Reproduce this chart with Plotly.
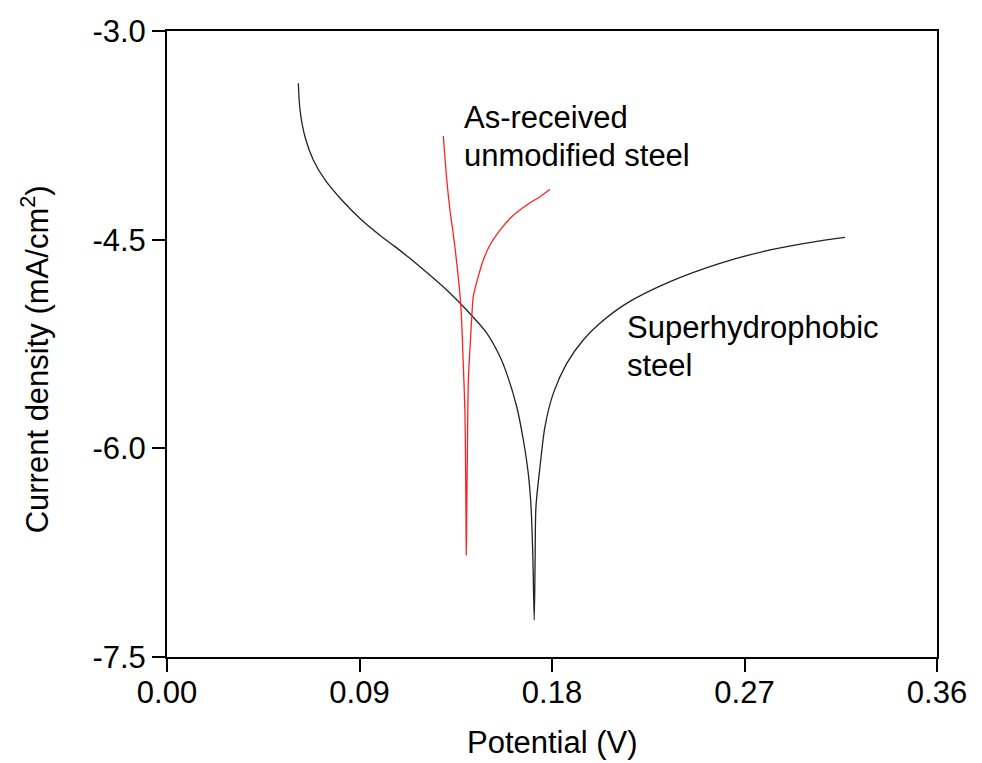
import plotly.graph_objects as go

# Superhydrophobic steel (black)
sh_potential = [0.0614, 0.0622, 0.0645, 0.0684, 0.0739, 0.0817, 0.0910, 0.1004, 0.1066,
                0.1183, 0.1308, 0.1401, 0.1495,
                0.1557, 0.1588, 0.1635, 0.1666, 0.1689, 0.1702, 0.1710, 0.1717,
                0.1721, 0.1725, 0.1744, 0.1767, 0.1806, 0.1869, 0.1946, 0.2024, 0.2149,
                0.2352, 0.2585, 0.2819, 0.3053, 0.3170]
sh_current = [-3.376, -3.568, -3.760, -3.927, -4.071, -4.215, -4.359, -4.479, -4.550,
              -4.694, -4.862, -5.006, -5.171,
              -5.341, -5.461, -5.701, -5.940, -6.180, -6.420, -6.753, -7.234,
              -6.800, -6.420, -6.132, -5.845, -5.605, -5.389, -5.221, -5.101, -4.958,
              -4.802, -4.670, -4.574, -4.508, -4.483]

# As-received unmodified steel (red)
ar_potential = [0.1292, 0.1308, 0.1323, 0.1346, 0.1373, 0.1385, 0.1393, 0.1396, 0.1398, 0.1399,
                0.1402, 0.1404, 0.1409, 0.1417, 0.1425, 0.1432, 0.1455, 0.1479, 0.1510,
                0.1557, 0.1612, 0.1682, 0.1744, 0.1791]
ar_current = [-3.755, -4.071, -4.287, -4.551, -4.958, -5.389, -5.746, -6.132, -6.515, -6.767,
              -6.400, -6.084, -5.509, -5.270, -5.054, -4.910, -4.766, -4.646, -4.538,
              -4.431, -4.335, -4.251, -4.191, -4.138]

x_ticks = [0.00, 0.09, 0.18, 0.27, 0.36]
x_ticktext = ["0.00", "0.09", "0.18", "0.27", "0.36"]
y_ticks = [-3.0, -4.5, -6.0, -7.5]
y_ticktext = ["-3.0", "-4.5", "-6.0", "-7.5"]

FONT = "Liberation Sans, Arial, Helvetica, sans-serif"
FS = 31

fig = go.Figure()
fig.add_trace(go.Scatter(x=sh_potential, y=sh_current, mode="lines",
                         line=dict(color="#222222", width=1.3, shape="spline", smoothing=0.8),
                         showlegend=False))
fig.add_trace(go.Scatter(x=ar_potential, y=ar_current, mode="lines",
                         line=dict(color="#ff2020", width=1.3, shape="spline", smoothing=0.8),
                         showlegend=False))

fig.update_layout(
    width=982, height=763,
    margin=dict(l=167, r=45, t=31, b=106),
    paper_bgcolor="white", plot_bgcolor="white",
    font=dict(family=FONT, size=FS, color="black"),
    xaxis=dict(range=[0, 0.36], tickvals=x_ticks, ticktext=x_ticktext,
               showline=True, linecolor="black", linewidth=2, mirror=True,
               ticks="outside", ticklen=13, tickwidth=1.5, tickcolor="black",
               ticklabelstandoff=-6,
               showgrid=False, zeroline=False, tickfont=dict(size=FS)),
    yaxis=dict(range=[-7.5, -3.0], tickvals=y_ticks, ticktext=y_ticktext,
               showline=True, linecolor="black", linewidth=2, mirror=True,
               ticks="outside", ticklen=13, tickwidth=1.5, tickcolor="black",
               showgrid=False, zeroline=False, tickfont=dict(size=FS)),
    annotations=[
        dict(text="Potential (V)", xref="paper", yref="paper", x=0.5, y=-0.1358,
             xanchor="center", yanchor="middle", showarrow=False, font=dict(size=FS)),
        dict(text="Current density (mA/cm<sup>2</sup>)", xref="paper", yref="paper",
             x=-0.171, y=0.476, textangle=-90, xanchor="center", yanchor="middle",
             showarrow=False, font=dict(size=FS)),
        dict(text="As-received", x=0.1379, y=-3.625, xanchor="left", yanchor="middle",
             showarrow=False, font=dict(size=FS)),
        dict(text="unmodified steel", x=0.1379, y=-3.896, xanchor="left", yanchor="middle",
             showarrow=False, font=dict(size=FS)),
        dict(text="Superhydrophobic", x=0.2141, y=-5.132, xanchor="left", yanchor="middle",
             showarrow=False, font=dict(size=FS)),
        dict(text="steel", x=0.2141, y=-5.407, xanchor="left", yanchor="middle",
             showarrow=False, font=dict(size=FS)),
    ],
)

# remove the browser's default 8px body margin so the figure sits at the page origin
fig.write_html("out.html", config={"displayModeBar": False},
               post_script="document.body.style.margin='0';")
